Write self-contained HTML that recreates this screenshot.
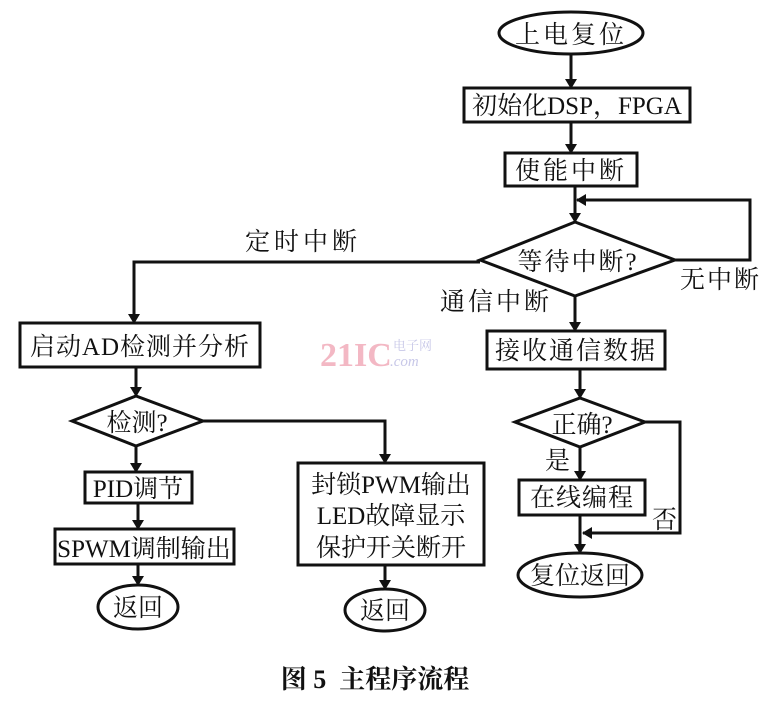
<!DOCTYPE html>
<html><head><meta charset="utf-8"><style>
body{margin:0;background:#fff}
svg text{font-family:"Liberation Serif","Noto Serif CJK SC",serif;fill:#111}
</style></head><body>
<svg width="771" height="701" viewBox="0 0 771 701" xmlns="http://www.w3.org/2000/svg">
<defs><marker id="a" markerWidth="10" markerHeight="12" refX="9" refY="6" orient="auto" markerUnits="userSpaceOnUse"><path d="M0,0 L10,6 L0,12 z" fill="#111"/></marker></defs>
<g stroke="#111" stroke-width="3" fill="none">
<ellipse cx="571" cy="33" rx="72" ry="21"/>
<rect x="464" y="88" width="226" height="34"/>
<rect x="505" y="153" width="132" height="33"/>
<polygon points="480,260 575,222 675,260 575,296"/>
<rect x="20" y="323" width="240" height="44"/>
<polygon points="72,421 136,396 203,421 136,446"/>
<rect x="85" y="472" width="107" height="31"/>
<rect x="55" y="529" width="179" height="35"/>
<ellipse cx="138" cy="607" rx="40" ry="22"/>
<rect x="298" y="463" width="186" height="102"/>
<ellipse cx="385" cy="610" rx="40" ry="21"/>
<rect x="487" y="331" width="178" height="38"/>
<polygon points="515,422 580,398 645,422 580,447"/>
<rect x="519" y="480" width="126" height="35"/>
<ellipse cx="580" cy="575" rx="62" ry="22"/>
<line x1="571" y1="54" x2="571" y2="88" marker-end="url(#a)"/>
<line x1="571" y1="122" x2="571" y2="153" marker-end="url(#a)"/>
<line x1="575" y1="186" x2="575" y2="222" marker-end="url(#a)"/>
<polyline points="675,260 750,260 750,200 577,200" marker-end="url(#a)"/>
<polyline points="480,262 134,262 134,323" marker-end="url(#a)"/>
<line x1="575" y1="296" x2="575" y2="331" marker-end="url(#a)"/>
<line x1="580" y1="369" x2="580" y2="398" marker-end="url(#a)"/>
<line x1="580" y1="447" x2="580" y2="480" marker-end="url(#a)"/>
<line x1="580" y1="515" x2="580" y2="553" marker-end="url(#a)"/>
<polyline points="645,422 680,422 680,533 583,533" marker-end="url(#a)"/>
<line x1="136" y1="367" x2="136" y2="396" marker-end="url(#a)"/>
<polyline points="203,421 385,421 385,463" marker-end="url(#a)"/>
<line x1="136" y1="446" x2="136" y2="472" marker-end="url(#a)"/>
<line x1="138" y1="503" x2="138" y2="529" marker-end="url(#a)"/>
<line x1="138" y1="564" x2="138" y2="585" marker-end="url(#a)"/>
<line x1="385" y1="565" x2="385" y2="589" marker-end="url(#a)"/>
</g>
<g font-size="25">
<text x="571" y="43" text-anchor="middle" letter-spacing="3">上电复位</text>
<text x="577" y="114" text-anchor="middle">初始化DSP，FPGA</text>
<text x="571" y="179" text-anchor="middle" letter-spacing="3">使能中断</text>
<text x="578" y="270" text-anchor="middle" letter-spacing="2">等待中断?</text>
<text x="140" y="355" text-anchor="middle" letter-spacing="1">启动AD检测并分析</text>
<text x="137" y="431" text-anchor="middle">检测?</text>
<text x="138" y="497" text-anchor="middle">PID调节</text>
<text x="144" y="557" text-anchor="middle">SPWM调制输出</text>
<text x="138" y="616" text-anchor="middle">返回</text>
<text x="391" y="493" text-anchor="middle">封锁PWM输出</text>
<text x="391" y="524" text-anchor="middle">LED故障显示</text>
<text x="391" y="556" text-anchor="middle">保护开关断开</text>
<text x="385" y="619" text-anchor="middle">返回</text>
<text x="576" y="359" text-anchor="middle" letter-spacing="2">接收通信数据</text>
<text x="582" y="433" text-anchor="middle">正确?</text>
<text x="582" y="506" text-anchor="middle" letter-spacing="1">在线编程</text>
<text x="580" y="584" text-anchor="middle">复位返回</text>
<text x="245" y="250" letter-spacing="4">定时中断</text>
<text x="440" y="310" letter-spacing="3">通信中断</text>
<text x="680" y="288" letter-spacing="2">无中断</text>
<text x="545" y="469">是</text>
<text x="652" y="528">否</text>
</g>
<text x="320" y="366" font-family="Liberation Sans,sans-serif" font-weight="bold" font-size="34" style="fill:#f3b8c4">21IC</text>
<text x="393" y="350" font-size="13" style="fill:#c8c8e8">电子网</text>
<text x="390" y="366" font-size="15" font-style="italic" style="fill:#c8c8e8">.com</text>
<text x="375" y="688" text-anchor="middle" font-size="26" font-weight="bold" xml:space="preserve">图 5  主程序流程</text>
</svg>
</body></html>
